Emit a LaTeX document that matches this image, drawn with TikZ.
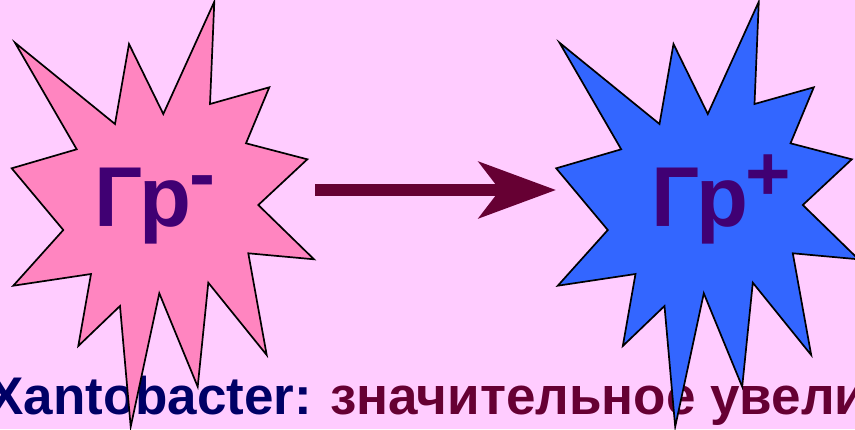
\documentclass[tikz,border=0pt]{standalone}
\usepackage{fontspec}
\setmainfont{Liberation Sans}
\usetikzlibrary{arrows.meta}
\definecolor{bgpink}{RGB}{255,204,255}
\definecolor{starpink}{RGB}{255,133,192}
\definecolor{starblue}{RGB}{51,102,255}
\definecolor{grpurple}{RGB}{64,0,115}
\definecolor{navytxt}{RGB}{0,0,102}
\definecolor{maroon}{RGB}{102,0,51}
\tikzset{
  burst/.style={draw=black, line width=1.7pt, line join=miter, miter limit=20},
  grlabel/.style={anchor=base west, inner sep=0pt, text=grpurple, font=\fontsize{85}{90}\selectfont\bfseries},
  grsign/.style={anchor=base west, inner sep=0pt, text=grpurple, font=\fontsize{78}{80}\selectfont\bfseries},
  bottomtxt/.style={anchor=base west, inner sep=0pt, font=\fontsize{53}{56}\selectfont\bfseries},
  bigarrow/.style={draw=maroon, line width=12pt, -{Stealth[length=77pt,width=56pt,inset=21pt]}}
}
\newcommand{\burstpath}{(214.3,1.7) -- (210,104) -- (269.3,87.3) -- (246,143.3) -- (307.3,159.3) -- (258.3,205) -- (314,259.3) -- (248.3,253.3) -- (266.7,355) -- (208.3,282.7) -- (197.7,386.7) -- (159.3,293.3) -- (130.7,426.7) -- (120,306) -- (78.3,346) -- (91,274) -- (13.3,285.7) -- (63.3,230) -- (11.7,168.3) -- (76.7,149.3) -- (15,42.7) -- (115,124) -- (129,44) -- (163.3,114) -- cycle}
\begin{document}
\begin{tikzpicture}[x=1pt,y=-1pt]
\useasboundingbox (0,0) rectangle (855,429);
\fill[bgpink] (0,0) rectangle (855,429);
\clip (0,0) rectangle (855,429);
% bottom text (drawn below the stars)
\node[bottomtxt, text=navytxt] (bacname) at (-12,414) {Xantobacter:};
\node[bottomtxt, text=maroon] (desc) at (330,414) {значительное увели};
% stars
\fill[starpink, burst] \burstpath;
\begin{scope}[xshift=544.5pt]
\fill[starblue, burst] \burstpath;
\end{scope}
% labels
\node[grlabel] (grminus) at (94,226) {Гр};
\node[grsign] (minussign) at (189.5,200) {-};
\node[grlabel] (grplus) at (651,226) {Гр};
\node[grsign] (plussign) at (745.5,200) {+};
% arrow
\coordinate (arrS) at (315,190);
\coordinate (arrE) at (556,190);
\draw[bigarrow] (arrS) -- (arrE);
\end{tikzpicture}
\end{document}
